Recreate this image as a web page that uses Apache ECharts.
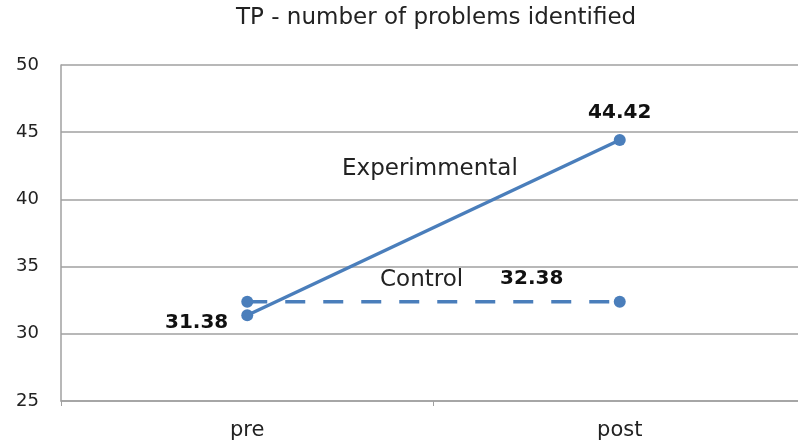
<!DOCTYPE html>
<html>
<head>
<meta charset="utf-8">
<script src="https://cdn.jsdelivr.net/npm/echarts@6/dist/echarts.min.js"></script>
<style>
  html, body { margin: 0; padding: 0; background: #fff; overflow: hidden; }
  #tp_chart { width: 806px; height: 447px; }
</style>
</head>
<body>
<div id="tp_chart"></div>
<script>
// 数据
var tp_categories = ['pre', 'post'];
var tp_experimental = [31.38, 44.42];
var tp_control = [32.38, 32.38];
var tp_yticks = [25, 30, 35, 40, 45, 50];

var tp_color = '#4a7ebb';
var tp_font = 'DejaVu Sans';

var tp_chart = echarts.init(document.getElementById('tp_chart'));

var tp_option = {
    animation: false,
    title: {
        text: 'TP - number of problems identified',
        left: 231,
        top: 2,
        textStyle: {
            fontFamily: tp_font,
            fontSize: 23,
            fontWeight: 'normal',
            color: '#222'
        }
    },
    grid: { left: 61, right: 0, top: 65, bottom: 46 },
    xAxis: {
        type: 'category',
        data: tp_categories,
        boundaryGap: true,
        axisLine: { lineStyle: { color: '#a0a0a0', width: 1.5 } },
        axisTick: { show: true, length: 5, lineStyle: { color: '#a0a0a0' } },
        axisLabel: { fontFamily: tp_font, fontSize: 21, color: '#222', margin: 19 }
    },
    yAxis: {
        type: 'value',
        min: tp_yticks[0],
        max: tp_yticks[tp_yticks.length - 1],
        interval: 5,
        axisLine: { show: true, lineStyle: { color: '#a0a0a0', width: 1.5 } },
        axisTick: { show: false },
        splitLine: { lineStyle: { color: '#a0a0a0', width: 1.5 } },
        axisLabel: { fontFamily: tp_font, fontSize: 18, color: '#222', margin: 22 }
    },
    series: [
        {
            name: 'Experimmental',
            type: 'line',
            data: [
                { value: tp_experimental[0], label: { show: true, position: 'left', offset: [-8, 8] } },
                { value: tp_experimental[1], label: { show: true, position: 'top', offset: [0, -6] } }
            ],
            symbol: 'circle',
            symbolSize: 12,
            itemStyle: { color: tp_color },
            lineStyle: { color: tp_color, width: 3.5 },
            label: {
                fontFamily: tp_font,
                fontSize: 20,
                fontWeight: 'bold',
                color: '#111'
            }
        },
        {
            name: 'Control',
            type: 'line',
            data: [
                { value: tp_control[0] },
                { value: tp_control[1], label: { show: true, position: 'top', offset: [-88, -2] } }
            ],
            symbol: 'circle',
            symbolSize: 12,
            itemStyle: { color: tp_color },
            lineStyle: { color: tp_color, width: 3.5, type: [20, 18] },
            label: {
                fontFamily: tp_font,
                fontSize: 20,
                fontWeight: 'bold',
                color: '#111'
            }
        }
    ],
    graphic: [
        {
            type: 'text', left: 342, top: 158,
            style: { text: 'Experimmental', fontFamily: tp_font, fontSize: 23, fill: '#222' }
        },
        {
            type: 'text', left: 380, top: 269,
            style: { text: 'Control', fontFamily: tp_font, fontSize: 23, fill: '#222' }
        }
    ]
};

tp_chart.setOption(tp_option);
</script>
</body>
</html>
